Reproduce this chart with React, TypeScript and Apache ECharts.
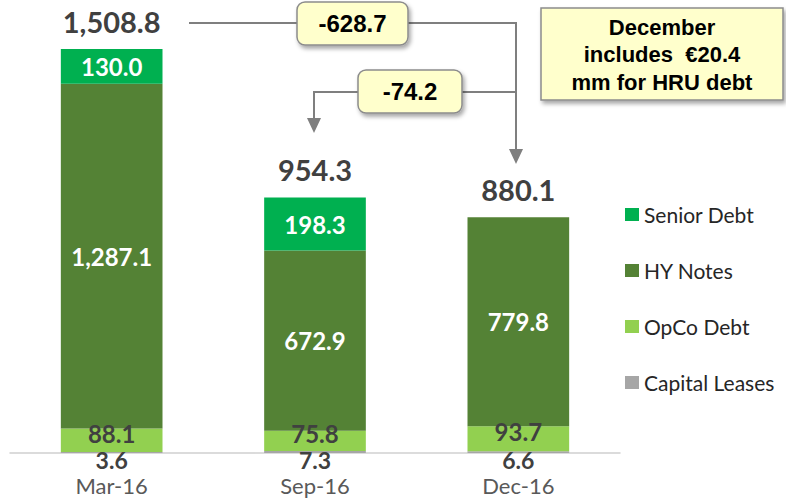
import React, { useEffect, useRef } from "react";
import * as echarts from "echarts";

const categories = ["Mar-16", "Sep-16", "Dec-16"];
const capitalLeases = [3.6, 7.3, 6.6];
const opcoDebt = [88.1, 75.8, 93.7];
const hyNotes = [1287.1, 672.9, 779.8];
const seniorDebt = [130.0, 198.3, 0];
const totals = [1508.8, 954.3, 880.1];
const changeAnnotations = ["-628.7", "-74.2"];
const noteLines = ["December", "includes  €20.4", "mm for HRU debt"];

const fmt = (v: number) =>
  v.toLocaleString("en-US", { minimumFractionDigits: 1, maximumFractionDigits: 1 });

const FONT = "Lato";
const ARIAL = "'Liberation Sans', Arial, sans-serif";

export default function App() {
  const ref = useRef<HTMLDivElement>(null);
  useEffect(() => {
    const chart = echarts.init(ref.current!, null, { renderer: "svg" });
    const segLabel = (color: string, extra: any = {}) => ({
      show: true,
      color,
      fontFamily: FONT,
      fontWeight: "bold",
      fontSize: 24,
      formatter: (p: any) => (p.value ? fmt(p.value) : ""),
      ...extra,
    });
    const arrowColor = "#7f7f7f";
    const shadow = {
      shadowBlur: 4,
      shadowOffsetX: 2,
      shadowOffsetY: 3,
      shadowColor: "rgba(0,0,0,0.35)",
    };
    const box = (x: number, y: number, w: number, h: number, text: string) => ({
      type: "group",
      children: [
        {
          type: "rect",
          shape: { x, y, width: w, height: h, r: 8 },
          style: { fill: "#ffffcc", stroke: "#8c8c8c", lineWidth: 1.5, ...shadow },
        },
        {
          type: "text",
          x: x + w / 2,
          y: y + h / 2,
          style: {
            text,
            fill: "#000",
            font: `bold 24px ${ARIAL}`,
            align: "center",
            verticalAlign: "middle",
          },
        },
      ],
    });
    chart.setOption({
      animation: false,
      textStyle: { fontFamily: FONT },
      grid: { left: 10, right: 166, top: 49, bottom: 45, containLabel: false },
      xAxis: {
        type: "category",
        data: categories,
        axisTick: { show: false },
        axisLine: { lineStyle: { color: "#d0d0d0", width: 1.5 } },
        axisLabel: { color: "#595959", fontFamily: FONT, fontSize: 22, margin: 21 },
      },
      yAxis: { type: "value", min: 0, max: 1508.8, show: false, splitLine: { show: false } },
      legend: {
        orient: "vertical",
        left: 620,
        top: 199,
        itemWidth: 14,
        itemHeight: 13,
        itemGap: 35,
        icon: "rect",
        data: ["Senior Debt", "HY Notes", "OpCo Debt", "Capital Leases"],
        textStyle: { color: "#262626", fontFamily: FONT, fontSize: 21 },
      },
      series: [
        {
          name: "Capital Leases",
          type: "bar",
          stack: "d",
          barWidth: "50%",
          data: capitalLeases,
          itemStyle: { color: "#a6a6a6" },
          label: segLabel("#404040", {
            position: "bottom",
            distance: 0,
            offset: [0, 0],
            fontSize: 23,
            lineHeight: 14,
          }),
        },
        {
          name: "OpCo Debt",
          type: "bar",
          stack: "d",
          data: opcoDebt,
          itemStyle: { color: "#92d050" },
          label: segLabel("#404040", { position: "inside", offset: [0, -7], lineHeight: 14 }),
        },
        {
          name: "HY Notes",
          type: "bar",
          stack: "d",
          data: hyNotes,
          itemStyle: { color: "#548235" },
          label: segLabel("#ffffff", { position: "inside" }),
        },
        {
          name: "Senior Debt",
          type: "bar",
          stack: "d",
          data: seniorDebt,
          itemStyle: { color: "#00b050" },
          label: segLabel("#ffffff", { position: "inside" }),
        },
        {
          name: "Total",
          type: "bar",
          stack: "d",
          data: totals.map(() => 0),
          itemStyle: { color: "transparent" },
          label: {
            show: true,
            position: "top",
            distance: 13,
            color: "#404040",
            fontFamily: FONT,
            fontWeight: "bold",
            fontSize: 29,
            formatter: (p: any) => fmt(totals[p.dataIndex]),
          },
        },
      ],
      graphic: [
        {
          type: "polyline",
          shape: { points: [[189, 23], [516, 23], [516, 150]] },
          style: { stroke: arrowColor, lineWidth: 2, fill: null },
        },
        {
          type: "polygon",
          shape: { points: [[509, 149], [523, 149], [516, 164]] },
          style: { fill: arrowColor },
        },
        {
          type: "polyline",
          shape: { points: [[516, 92], [314, 92], [314, 119]] },
          style: { stroke: arrowColor, lineWidth: 2, fill: null },
        },
        {
          type: "polygon",
          shape: { points: [[307, 118], [321, 118], [314, 133]] },
          style: { fill: arrowColor },
        },
        box(297, 2, 111, 43, changeAnnotations[0]),
        box(358, 70, 104, 43, changeAnnotations[1]),
        {
          type: "group",
          children: [
            {
              type: "rect",
              shape: { x: 541, y: 8, width: 242, height: 92 },
              style: { fill: "#ffffcc", stroke: "#8c8c8c", lineWidth: 1.5, ...shadow },
            },
            ...noteLines.map((t, i) => ({
              type: "text",
              x: 662,
              y: 27 + i * 27.5,
              style: {
                text: t,
                fill: "#000",
                font: `bold 22px ${ARIAL}`,
                align: "center",
                verticalAlign: "middle",
              },
            })),
          ],
        },
      ],
    });
    return () => chart.dispose();
  }, []);
  return (
    <div
      ref={ref}
      style={{ position: "fixed", left: 0, top: 0, width: 786, height: 498, background: "#fff" }}
    />
  );
}
